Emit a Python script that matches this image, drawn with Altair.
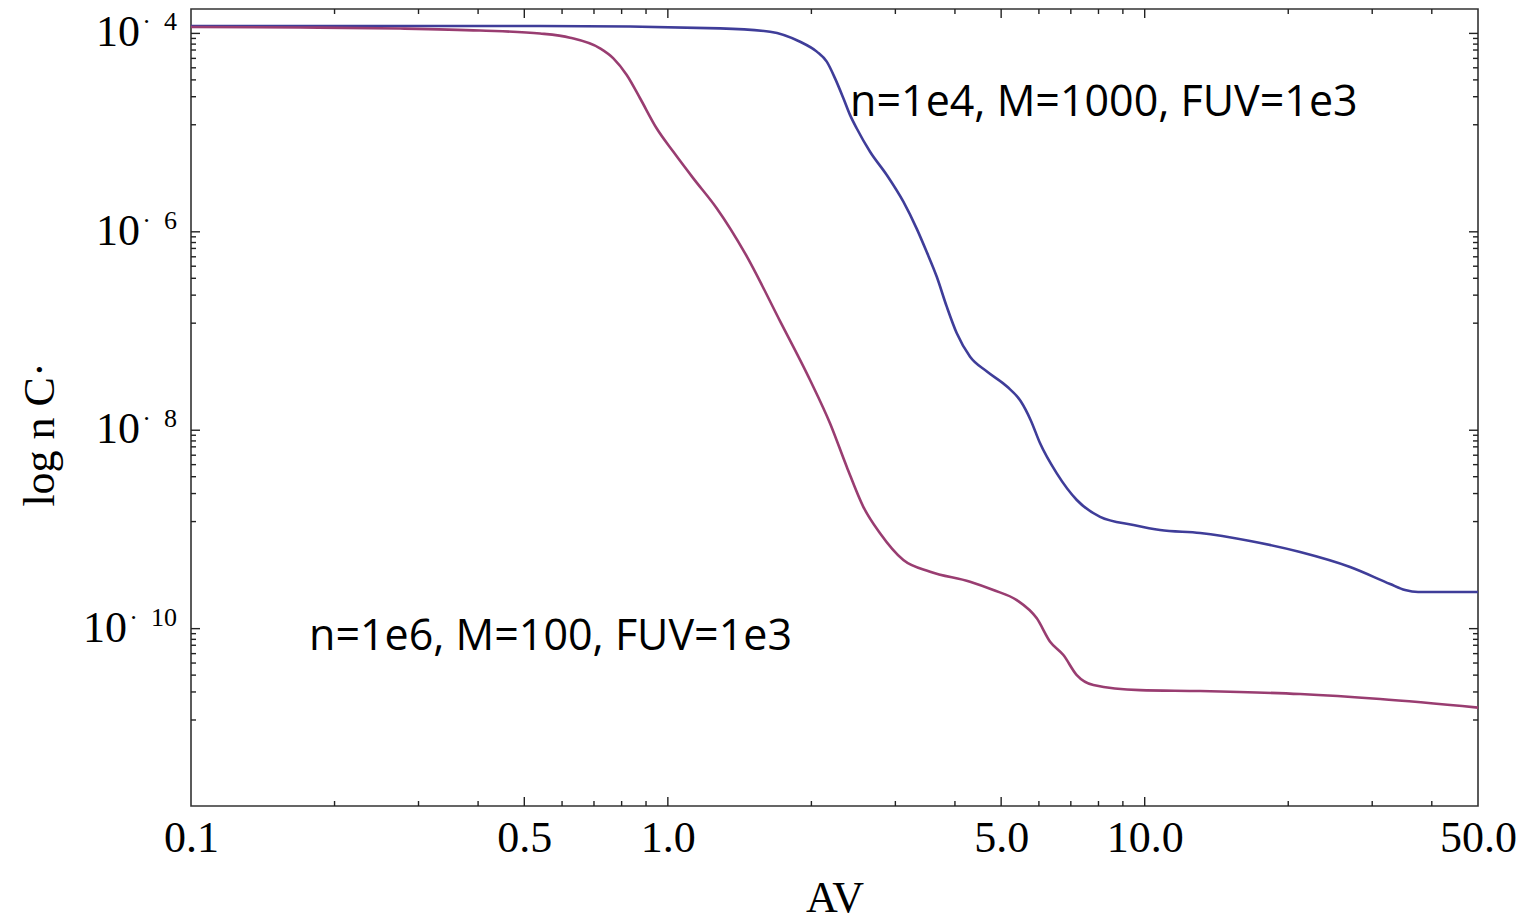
import altair as alt
import pandas as pd

# ---- data ----
# Series A: n=1e4, M=1000, FUV=1e3 (blue)
av_a = [0.1, 0.5395, 1.287, 1.638, 1.894, 2.053, 2.154, 2.242, 2.334, 2.411,
        2.490, 2.655, 2.878, 3.118, 3.327, 3.491, 3.664, 3.845, 4.036, 4.303,
        4.675, 5.150, 5.492, 5.764, 6.034, 6.541, 7.204, 8.063, 9.469, 10.77,
        13.07, 16.64, 21.18, 26.96, 32.71, 35.16, 37.44, 50.0]
nc_a = [1.189e-4, 1.189e-4, 1.125e-4, 1.040e-4, 8.24e-5, 6.55e-5, 5.19e-5, 3.52e-5, 2.22e-5, 1.50e-5,
        1.10e-5, 6.41e-6, 3.74e-6, 2.01e-6, 1.07e-6, 6.25e-7, 3.52e-7, 1.76e-7, 9.48e-8, 5.51e-8,
        3.89e-8, 2.74e-8, 1.97e-8, 1.27e-8, 7.38e-9, 3.67e-9, 1.98e-9, 1.34e-9, 1.11e-9, 9.86e-10,
        9.20e-10, 7.64e-10, 5.92e-10, 4.18e-10, 2.82e-10, 2.45e-10, 2.34e-10, 2.34e-10]

# Series B: n=1e6, M=100, FUV=1e3 (purple)
av_b = [0.1, 0.1693, 0.2744, 0.4037, 0.5395, 0.6236, 0.7207, 0.7687, 0.8200, 0.8744,
        0.9478, 1.027, 1.131, 1.266, 1.452, 1.719, 1.987, 2.189, 2.372, 2.570,
        2.786, 3.118, 3.548, 4.303, 4.816, 5.392, 5.939, 6.333, 6.753, 7.204,
        7.805, 9.779, 13.07, 21.18, 31.17, 50.0]
nc_b = [1.161e-4, 1.146e-4, 1.119e-4, 1.069e-4, 9.98e-5, 9.06e-5, 7.08e-5, 5.61e-5, 3.81e-5, 2.22e-5,
        1.10e-5, 6.41e-6, 3.46e-6, 1.73e-6, 6.07e-7, 1.26e-7, 3.21e-8, 1.17e-8, 4.29e-9, 1.69e-9,
        9.14e-10, 4.91e-10, 3.75e-10, 2.97e-10, 2.45e-10, 1.94e-10, 1.27e-10, 7.38e-11, 5.42e-11, 3.40e-11,
        2.70e-11, 2.40e-11, 2.35e-11, 2.19e-11, 1.95e-11, 1.60e-11]

series_names = ["n=1e4, M=1000, FUV=1e3", "n=1e6, M=100, FUV=1e3"]
series_colors = ["#3f3d99", "#993d71"]

# annotations
ann_text = ["n=1e4, M=1000, FUV=1e3", "n=1e6, M=100, FUV=1e3"]
ann_av = [2.411, 0.1768]
ann_nc = [1.99e-5, 8.22e-11]

# axis ticks / labels
x_label_vals = [0.1, 0.5, 1.0, 5.0, 10.0, 50.0]
x_major_ticks = [0.5, 1.0, 5.0, 10.0]
x_minor_ticks = [0.2, 0.3, 0.4, 0.6, 0.7, 0.8, 0.9, 2, 3, 4, 6, 7, 8, 9, 20, 30, 40]
y_major_ticks = [1e-4, 1e-6, 1e-8, 1e-10]
y_label_exps = ["4", "6", "8", "10"]
y_minor_factors = [0.89, 0.78, 0.68, 0.56, 0.45, 0.34, 0.23, 0.12]

W, H = 1287, 797
X_DOMAIN = [0.1, 50.0]
Y_DOMAIN = [1.63e-12, 1.762e-4]

# ---- tables ----
lines_df = pd.concat([
    pd.DataFrame({"AV": av_a, "nC": nc_a, "series": series_names[0], "order": range(len(av_a))}),
    pd.DataFrame({"AV": av_b, "nC": nc_b, "series": series_names[1], "order": range(len(av_b))}),
])
ann_df = pd.DataFrame({"text": ann_text, "AV": ann_av, "nC": ann_nc})
xmaj_df = pd.DataFrame({"v": x_major_ticks})
xmin_df = pd.DataFrame({"v": x_minor_ticks})
ymaj_df = pd.DataFrame({"v": y_major_ticks})
ymin_df = pd.DataFrame({"v": [m * f for m in y_major_ticks for f in y_minor_factors]})
ylab_df = pd.DataFrame({
    "v": y_major_ticks,
    "exp": ["\u00b7\u00a0\u00a0" + e for e in y_label_exps],
    "wide": [len(e) > 1 for e in y_label_exps],
})

xs = alt.Scale(type="log", domain=X_DOMAIN, nice=False)
ys = alt.Scale(type="log", domain=Y_DOMAIN, nice=False)

x_axis = alt.Axis(values=x_label_vals, format=".1f", ticks=False, domain=False, grid=False,
                  labelFont="Liberation Serif", labelFontSize=44, labelColor="#000",
                  labelPadding=10, labelFlush=False, labelOverlap=False,
                  title="AV", titleFont="Liberation Serif", titleFontSize=44,
                  titleFontWeight="normal", titleColor="#000", titlePadding=16)
y_axis = alt.Axis(labels=False, ticks=False, domain=False, grid=False,
                  title="log n C\u00b7", titleFont="Liberation Serif", titleFontSize=44,
                  titleFontWeight="normal", titleColor="#000", titleAngle=270,
                  titleX=-151, titleY=425, titleAlign="center", titleBaseline="middle")

X = lambda f: alt.X(f, type="quantitative", scale=xs, axis=x_axis)
Y = lambda f: alt.Y(f, type="quantitative", scale=ys, axis=y_axis)

lines = alt.Chart(lines_df).mark_line(strokeWidth=2.6, interpolate="monotone").encode(
    x=X("AV"), y=Y("nC"),
    color=alt.Color("series:N", scale=alt.Scale(domain=series_names, range=series_colors), legend=None),
    order="order:Q",
)

ann = alt.Chart(ann_df).mark_text(font="Open Sans", fontSize=43, align="left",
                                  baseline="middle", color="#000").encode(
    x=X("AV"), y=Y("nC"), text="text:N")

TICK_COLOR = "#222"
TICK_W = 1.4
def ytick_layer(df, length):
    left = alt.Chart(df).mark_rule(color=TICK_COLOR, strokeWidth=TICK_W).encode(
        y=Y("v"), x=alt.value(0), x2=alt.value(length))
    right = alt.Chart(df).mark_rule(color=TICK_COLOR, strokeWidth=TICK_W).encode(
        y=Y("v"), x=alt.value(W), x2=alt.value(W - length))
    return [left, right]

def xtick_layer(df, length):
    bottom = alt.Chart(df).mark_rule(color=TICK_COLOR, strokeWidth=TICK_W).encode(
        x=X("v"), y=alt.value(H), y2=alt.value(H - length))
    top = alt.Chart(df).mark_rule(color=TICK_COLOR, strokeWidth=TICK_W).encode(
        x=X("v"), y=alt.value(0), y2=alt.value(length))
    return [bottom, top]

ticks = (ytick_layer(ymaj_df, 9) + ytick_layer(ymin_df, 5)
         + xtick_layer(xmaj_df, 9) + xtick_layer(xmin_df, 5))

ylab_exp = alt.Chart(ylab_df).mark_text(font="Liberation Serif", fontSize=26, align="right",
                                        baseline="middle", dy=-11, color="#000").encode(
    y=Y("v"), x=alt.value(-14), text="exp:N")
ylab_ten_narrow = alt.Chart(ylab_df).transform_filter("!datum.wide").mark_text(
    font="Liberation Serif", fontSize=44, align="right", baseline="middle", color="#000").encode(
    y=Y("v"), x=alt.value(-51), text=alt.value("10"))
ylab_ten_wide = alt.Chart(ylab_df).transform_filter("datum.wide").mark_text(
    font="Liberation Serif", fontSize=44, align="right", baseline="middle", color="#000").encode(
    y=Y("v"), x=alt.value(-64), text=alt.value("10"))

chart = alt.layer(lines, *ticks, ann, ylab_exp, ylab_ten_narrow, ylab_ten_wide).properties(
    width=W, height=H,
    background="white",
    autosize=alt.AutoSizeParams(type="none"),
    padding={"left": 183, "top": 1, "right": 42, "bottom": 116},
).configure_view(stroke="#333", strokeWidth=1.6)

chart.save("out.html", embed_options={"renderer": "svg", "actions": False})
